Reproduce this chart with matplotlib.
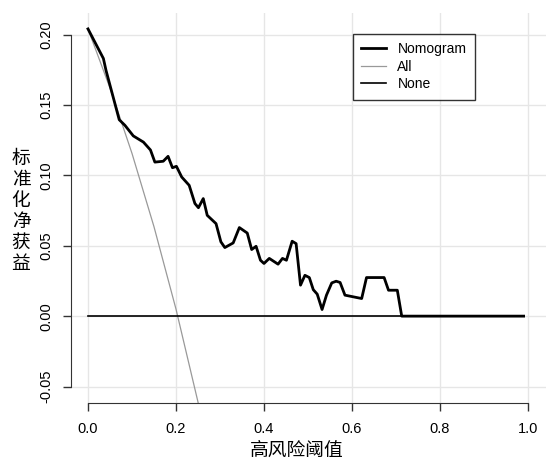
import numpy as np
import matplotlib.pyplot as plt

plt.rcParams['font.family'] = ['Liberation Sans', 'DejaVu Sans']
cjk = ['Noto Sans CJK SC', 'DejaVu Sans']

# threshold probabilities and net benefit
nomo_x = [0.0, 0.035, 0.041, 0.071, 0.084, 0.103, 0.126, 0.142, 0.152, 0.171,
          0.182, 0.192, 0.201, 0.213, 0.230, 0.243, 0.251, 0.262, 0.271, 0.291,
          0.302, 0.311, 0.330, 0.344, 0.362, 0.372, 0.382, 0.392, 0.400, 0.412,
          0.432, 0.442, 0.451, 0.464, 0.473, 0.483, 0.493, 0.503, 0.512, 0.521,
          0.532, 0.542, 0.554, 0.564, 0.573, 0.584, 0.622, 0.633, 0.673, 0.683,
          0.703, 0.713, 0.99]
nomo_y = [0.204, 0.183, 0.1745, 0.1395, 0.1355, 0.128, 0.1236, 0.118, 0.1094, 0.110,
          0.1135, 0.1054, 0.1064, 0.0988, 0.0929, 0.080, 0.077, 0.0835, 0.0716, 0.0657,
          0.0528, 0.0487, 0.052, 0.0629, 0.059, 0.0473, 0.0496, 0.0397, 0.0374, 0.041,
          0.0369, 0.041, 0.0397, 0.0532, 0.0515, 0.022, 0.029, 0.0274, 0.0188, 0.0156,
          0.0047, 0.0149, 0.0236, 0.0248, 0.0239, 0.0149, 0.0125, 0.0274, 0.0274, 0.0184,
          0.0184, 0.0, 0.0]

all_x = [0.0, 0.05, 0.10, 0.15, 0.20, 0.25, 0.30]
all_y = [0.204, 0.162, 0.1156, 0.0635, 0.005, -0.061, -0.137]

none_x = [0.0, 0.99]
none_y = [0.0, 0.0]

xticks = [0.0, 0.2, 0.4, 0.6, 0.8, 1.0]
yticks = [-0.05, 0.00, 0.05, 0.10, 0.15, 0.20]

fig = plt.figure(figsize=(5.54, 4.62), dpi=100)
ax = fig.add_axes([71/554, 1 - 403/462, (545.6 - 71)/554, (403 - 13)/462])

ax.set_xlim(-0.0386, 1.04)
ax.set_ylim(-0.0617, 0.2153)

for v in xticks:
    ax.axvline(v, color='#e6e6e6', lw=1.0, zorder=0)
for v in yticks:
    ax.axhline(v, color='#e6e6e6', lw=1.0, zorder=0)

ax.plot(nomo_x, nomo_y, color='black', lw=2.0, label='Nomogram', zorder=3)
ax.plot(all_x, all_y, color='#999999', lw=0.9, label='All', zorder=2)
ax.plot(none_x, none_y, color='black', lw=1.2, label='None', zorder=2)

for s in ['top', 'right']:
    ax.spines[s].set_visible(False)
ax.spines['left'].set_bounds(-0.05, 0.20)
ax.spines['bottom'].set_bounds(0.0, 1.0)
ax.spines['left'].set_color('#333333')
ax.spines['bottom'].set_color('#333333')

ax.set_xticks(xticks)
ax.set_xticklabels(['0.0', '0.2', '0.4', '0.6', '0.8', '1.0'])
ax.set_yticks(yticks)
ax.set_yticklabels(['-0.05', '0.00', '0.05', '0.10', '0.15', '0.20'],
                   rotation=90, va='center')
ax.tick_params(axis='both', length=6, width=1, color='#333333', labelsize=10.5)
ax.tick_params(axis='x', pad=8)
ax.tick_params(axis='y', pad=7)

fig.text(297/554, 1 - 450/462, '高风险阈值', family=cjk, fontsize=13.5,
         ha='center', va='center')
fig.text(21/554, 1 - 211/462, '标\n准\n化\n净\n获\n益', family=cjk, fontsize=13.5,
         ha='center', va='center', linespacing=1.0)

leg = ax.legend(loc='upper left', bbox_to_anchor=(353/554, 1 - 34/462),
                bbox_transform=fig.transFigure, fontsize=10, frameon=True,
                fancybox=False, edgecolor='black', handlelength=1.8,
                handletextpad=0.8, borderpad=0.6, labelspacing=0.25,
                borderaxespad=0)
leg.get_frame().set_linewidth(1.0)

fig.savefig('out.png', dpi=100)
